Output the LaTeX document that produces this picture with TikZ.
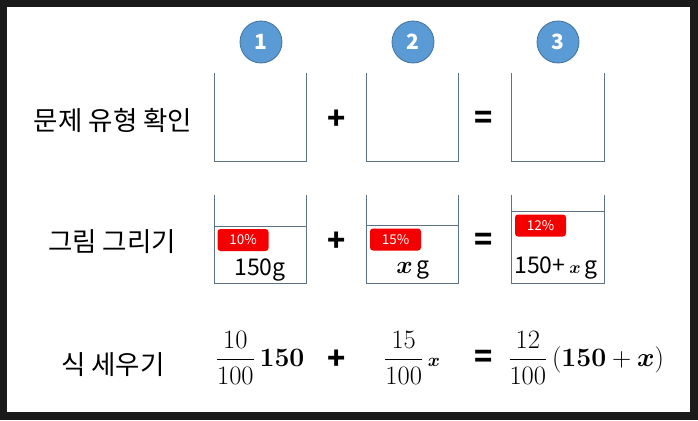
\documentclass[tikz,border=0pt]{standalone}
\usepackage{amsmath}
\usepackage[no-math]{fontspec}
\setmainfont{Noto Sans CJK KR}
\definecolor{numfill}{HTML}{5B9BD5}
\definecolor{numdraw}{HTML}{41719C}
\definecolor{tagred}{HTML}{F40000}
\definecolor{cupc}{HTML}{5D7384}
\definecolor{framec}{HTML}{1A1A1A}
\begin{document}
\begin{tikzpicture}[x=1pt,y=-1pt,
  cup/.style={draw=cupc, line width=0.9pt},
  num/.style={circle, fill=numfill, draw=numdraw, line width=0.8pt, minimum size=42pt, inner sep=0pt, text=white, font=\fontsize{21}{21}\selectfont\bfseries},
  tag/.style={fill=tagred, rounded corners=3pt, text=white, minimum width=51pt, minimum height=22pt, inner sep=0pt, font=\fontsize{13.5}{13.5}\selectfont},
  lab/.style={font=\fontsize{26.5}{26.5}\selectfont},
  op/.style={font=\fontsize{30}{30}\selectfont\bfseries, inner sep=0pt},
  amt/.style={font=\fontsize{23}{23}\selectfont, anchor=base, inner sep=0pt},
  eqn/.style={font=\fontsize{20.74}{24}\selectfont, inner sep=0pt}
]
\useasboundingbox (0,0) rectangle (698,420);
\fill[framec] (0,0) rectangle (698,420);
\fill[white] (7,7) rectangle (690,412);

% step numbers
\node[num] (n1) at (261,42) {1};
\node[num] (n2) at (413,42) {2};
\node[num] (n3) at (558,42) {3};

% row labels
\node[lab] (l1) at (113,120) {문제 유형 확인};
\node[lab] (l2) at (112,242) {그림 그리기};
\node[lab] (l3) at (113,365) {식 세우기};

% row 1 cups
\draw[cup] (214,73) -- (214,161) -- (306,161) -- (306,73);
\draw[cup] (366,73) -- (366,161) -- (458,161) -- (458,73);
\draw[cup] (511,73) -- (511,161) -- (604,161) -- (604,73);
\node[op] (p1) at (337,120) {+};
\node[op] (e1) at (484,120) {=};

% row 2 cups
\draw[cup] (214,195) -- (214,283) -- (306,283) -- (306,195);
\draw[cup] (214,226) -- (306,226);
\draw[cup] (366,195) -- (366,283) -- (458,283) -- (458,195);
\draw[cup] (366,225) -- (458,225);
\draw[cup] (511,195) -- (511,283) -- (604,283) -- (604,195);
\draw[cup] (511,211) -- (604,211);
\node[op] (p2) at (337,242) {+};
\node[op] (e2) at (484,242) {=};

\node[tag] (t1) at (243,240) {10\%};
\node[tag] (t2) at (395.5,239.5) {15\%};
\node[tag] (t3) at (540.5,225.5) {12\%};

\node[amt] (a1) at (260,275) {150g};
\node[amt] (a2) at (413,273) {$\boldsymbol{x}$\,g};
\node[amt] (a3) at (556,273) {150+\,{\fontsize{16}{16}\selectfont$\boldsymbol{x}$}\,g};

% row 3 equation
\node[eqn] (f1) at (260,358) {\scalebox{1.28}{$\dfrac{10}{100}\,\mathbf{150}$}};
\node[op] (p3) at (337,360) {+};
\node[eqn] (f2) at (412,358) {\scalebox{1.28}{$\dfrac{15}{100}\,{\scriptstyle\boldsymbol{x}}$}};
\node[op] (e3) at (484,359) {=};
\node[eqn] (f3) at (586,358) {\scalebox{1.28}{$\dfrac{12}{100}\,(\mathbf{150}+\boldsymbol{x})$}};
\end{tikzpicture}
\end{document}
